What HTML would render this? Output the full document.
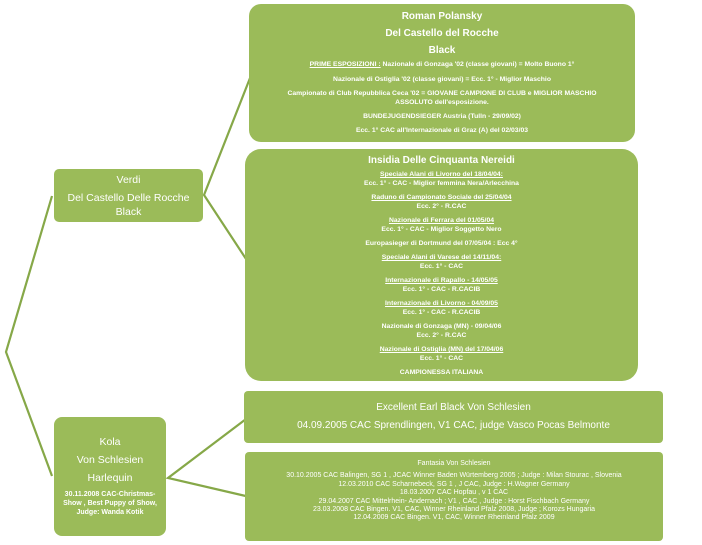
<!DOCTYPE html>
<html><head><meta charset="utf-8"><style>
body{margin:0;width:702px;height:545px;background:#fff;position:relative;overflow:hidden;font-family:"Liberation Sans",sans-serif;color:#fff}
.b{position:absolute;background:#9bbb59;text-align:center;box-sizing:border-box}
.u{text-decoration:underline}
p{margin:0}
</style></head><body>
<svg width="702" height="545" style="position:absolute;left:0;top:0">
<g stroke="#86a848" stroke-width="2.2" fill="none">
<polyline points="52,196 6,352 52,476"/>
<polyline points="252,73 204,195 250,265"/>
<polyline points="250,416 168,478 250,497"/>
</g></svg>

<div class="b" style="left:54px;top:169px;width:149px;height:53px;border-radius:5px;font-size:10.5px;line-height:14px;padding-top:4px">
<p style="margin-bottom:4px">Verdi</p><p>Del Castello Delle Rocche</p><p>Black</p></div>

<div class="b" style="left:54px;top:417px;width:112px;height:119px;border-radius:8px;padding:16px 8px 0">
<p style="font-size:10.5px;line-height:18px">Kola</p>
<p style="font-size:10.5px;line-height:18px">Von Schlesien</p>
<p style="font-size:10.5px;line-height:18px">Harlequin</p>
<p style="font-size:7px;font-weight:bold;line-height:9px;margin-top:3px">30.11.2008 CAC-Christmas-Show , Best Puppy of Show, Judge: Wanda Kotik</p></div>

<div class="b" style="left:249px;top:4px;width:386px;height:138px;border-radius:12px;padding-top:4px">
<p style="font-size:10px;line-height:17px;font-weight:bold">Roman Polansky</p>
<p style="font-size:10px;line-height:17px;font-weight:bold">Del Castello del Rocche</p>
<p style="font-size:10px;line-height:17px;font-weight:bold">Black</p>
<div style="font-size:6.8px;font-weight:bold;line-height:8.5px">
<p style="margin:2px 0 6px"><span class="u">PRIME ESPOSIZIONI :</span> Nazionale di Gonzaga '02 (classe giovani) = Molto Buono 1°</p>
<p style="margin-bottom:6px">Nazionale di Ostiglia '02 (classe giovani) = Ecc. 1° - Miglior Maschio</p>
<p style="margin-bottom:6px">Campionato di Club Repubblica Ceca '02 = GIOVANE CAMPIONE DI CLUB e MIGLIOR MASCHIO<br>ASSOLUTO dell'esposizione.</p>
<p style="margin-bottom:5px">BUNDEJUGENDSIEGER Austria (Tulln - 29/09/02)</p>
<p>Ecc. 1° CAC all'Internazionale di Graz (A) del 02/03/03</p></div></div>

<div class="b" style="left:245px;top:149px;width:393px;height:232px;border-radius:16px;padding-top:5px">
<p style="font-size:10px;line-height:14px;font-weight:bold;margin-bottom:2px">Insidia Delle Cinquanta Nereidi</p>
<div style="font-size:6.8px;font-weight:bold;line-height:9px">
<p class="u">Speciale Alani di Livorno del 18/04/04:</p><p style="margin-bottom:5px">Ecc. 1° - CAC - Miglior femmina Nera/Arlecchina</p>
<p class="u">Raduno di Campionato Sociale del 25/04/04</p><p style="margin-bottom:5px">Ecc. 2° - R.CAC</p>
<p class="u">Nazionale di Ferrara del 01/05/04</p><p style="margin-bottom:5px">Ecc. 1° - CAC - Miglior Soggetto Nero</p>
<p style="margin-bottom:5px">Europasieger di Dortmund del 07/05/04 : Ecc 4°</p>
<p class="u">Speciale Alani di Varese del 14/11/04:</p><p style="margin-bottom:5px">Ecc. 1° - CAC</p>
<p class="u">Internazionale di Rapallo - 14/05/05</p><p style="margin-bottom:5px">Ecc. 1° - CAC - R.CACIB</p>
<p class="u">Internazionale di Livorno - 04/09/05</p><p style="margin-bottom:5px">Ecc. 1° - CAC - R.CACIB</p>
<p>Nazionale di Gonzaga (MN) - 09/04/06</p><p style="margin-bottom:5px">Ecc. 2° - R.CAC</p>
<p class="u">Nazionale di Ostiglia (MN) del 17/04/06</p><p style="margin-bottom:5px">Ecc. 1° - CAC</p>
<p>CAMPIONESSA ITALIANA</p></div></div>

<div class="b" style="left:244px;top:391px;width:419px;height:52px;border-radius:4px;padding-top:8px;font-size:10px;line-height:18px">
<p>Excellent Earl Black Von Schlesien</p><p>04.09.2005 CAC Sprendlingen, V1 CAC, judge Vasco Pocas Belmonte</p></div>

<div class="b" style="left:245px;top:452px;width:418px;height:89px;border-radius:4px;padding-top:8px;font-size:7px;line-height:8.4px">
<p style="margin-bottom:4px">Fantasia Von Schlesien</p>
<p>30.10.2005 CAC Balingen, SG 1 , JCAC Winner Baden Würtemberg 2005 ; Judge : Milan Stourac , Slovenia</p>
<p>12.03.2010 CAC Scharnebeck, SG 1 , J CAC, Judge : H.Wagner Germany</p>
<p>18.03.2007 CAC Hopfau , v 1 CAC</p>
<p>29.04.2007 CAC Mittelrhein- Andernach ; V1 , CAC , Judge : Horst Fischbach Germany</p>
<p>23.03.2008 CAC Bingen. V1, CAC, Winner Rheinland Pfalz 2008, Judge ; Korozs Hungaria</p>
<p>12.04.2009 CAC Bingen. V1, CAC, Winner Rheinland Pfalz 2009</p></div>
</body></html>
